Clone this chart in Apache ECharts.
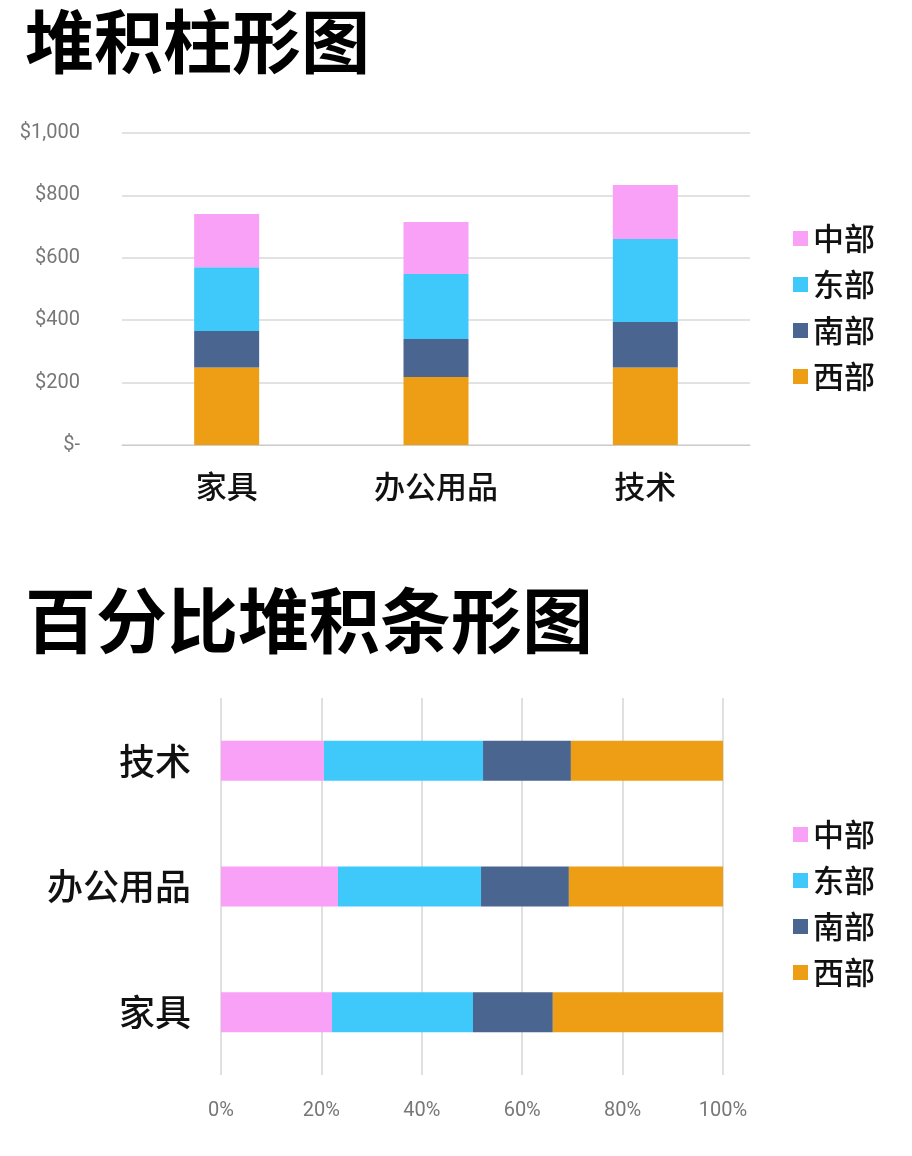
<!DOCTYPE html>
<html><head><meta charset="utf-8">
<script src="https://cdn.jsdelivr.net/npm/echarts@6/dist/echarts.min.js"></script>
<style>html,body{margin:0;padding:0;background:#fff}#c{width:912px;height:1156px}</style>
</head><body><div id="c"></div>
<script>
const categories = ['家具','办公用品','技术'];
const regions = ['中部','东部','南部','西部'];
const colors = {'中部':'#F9A0F7','东部':'#3EC9FA','南部':'#4A6590','西部':'#EE9E14'};
// stacked column values ($)
const west = [248, 218, 248];
const south = [117, 122, 146];
const east = [205, 208, 266];
const central = [170, 167, 173];
// percent values (%)
const pctCentral = [22.1, 23.3, 20.5];
const pctEast = [28.1, 28.5, 31.7];
const pctSouth = [15.9, 17.5, 17.5];
const pctWest = [33.9, 30.7, 30.3];
const yTicks = {0:'$-',200:'$200',400:'$400',600:'$600',800:'$800',1000:'$1,000'};

const font = "'Noto Sans CJK SC', sans-serif";
const colData = {'西部':west,'南部':south,'东部':east,'中部':central};
const pctData = {'中部':pctCentral,'东部':pctEast,'南部':pctSouth,'西部':pctWest};
const series = [];
['西部','南部','东部','中部'].forEach(r => series.push({
  name:r, type:'bar', stack:'a', xAxisIndex:0, yAxisIndex:0, barWidth:65,
  itemStyle:{color:colors[r]}, data:colData[r]}));
['中部','东部','南部','西部'].forEach(r => series.push({
  name:r, type:'bar', stack:'b', xAxisIndex:1, yAxisIndex:1, barWidth:40,
  itemStyle:{color:colors[r]}, data:pctData[r]}));
const legendBase = {orient:'vertical', left:788, itemWidth:15, itemHeight:15, itemGap:15,
  icon:'rect', data:regions, textStyle:{fontSize:31, fontWeight:500, color:'#111', fontFamily:font}, selectedMode:false};
const chart = echarts.init(document.getElementById('c'));
chart.setOption({
  animation:false,
  title:[
    {text:'堆积柱形图', left:20, top:2, textStyle:{fontSize:69, fontWeight:'bold', color:'#000', fontFamily:font}},
    {text:'百分比堆积条形图', left:20, top:580, textStyle:{fontSize:71, fontWeight:'bold', color:'#000', fontFamily:font}}
  ],
  legend:[Object.assign({top:218}, legendBase), Object.assign({top:814}, legendBase)],
  grid:[{left:122, right:162, top:133, height:312},{left:221, right:189, top:698, height:377}],
  xAxis:[
    {type:'category', gridIndex:0, data:categories, axisTick:{show:false},
     axisLine:{lineStyle:{color:'#ccc'}}, axisLabel:{fontSize:31, fontWeight:500, color:'#111', margin:26, fontFamily:font}},
    {type:'value', gridIndex:1, min:0, max:100, interval:20, axisLine:{show:false}, axisTick:{show:false},
     splitLine:{lineStyle:{color:'#d6d6d6', width:1.5}},
     axisLabel:{fontSize:20, color:'#777', margin:26, fontFamily:'Roboto', formatter:v=>v+'%'}}
  ],
  yAxis:[
    {type:'value', gridIndex:0, min:0, max:1000, interval:200, axisLine:{show:false}, axisTick:{show:false},
     splitLine:{lineStyle:{color:'#d9d9d9', width:1.5}},
     axisLabel:{fontSize:20, color:'#777', margin:42, fontFamily:'Roboto', formatter:v=>yTicks[v]}},
    {type:'category', gridIndex:1, data:categories, axisTick:{show:false}, axisLine:{show:false},
     axisLabel:{fontSize:36, fontWeight:500, color:'#111', margin:30, fontFamily:font}}
  ],
  series
});
</script></body></html>
